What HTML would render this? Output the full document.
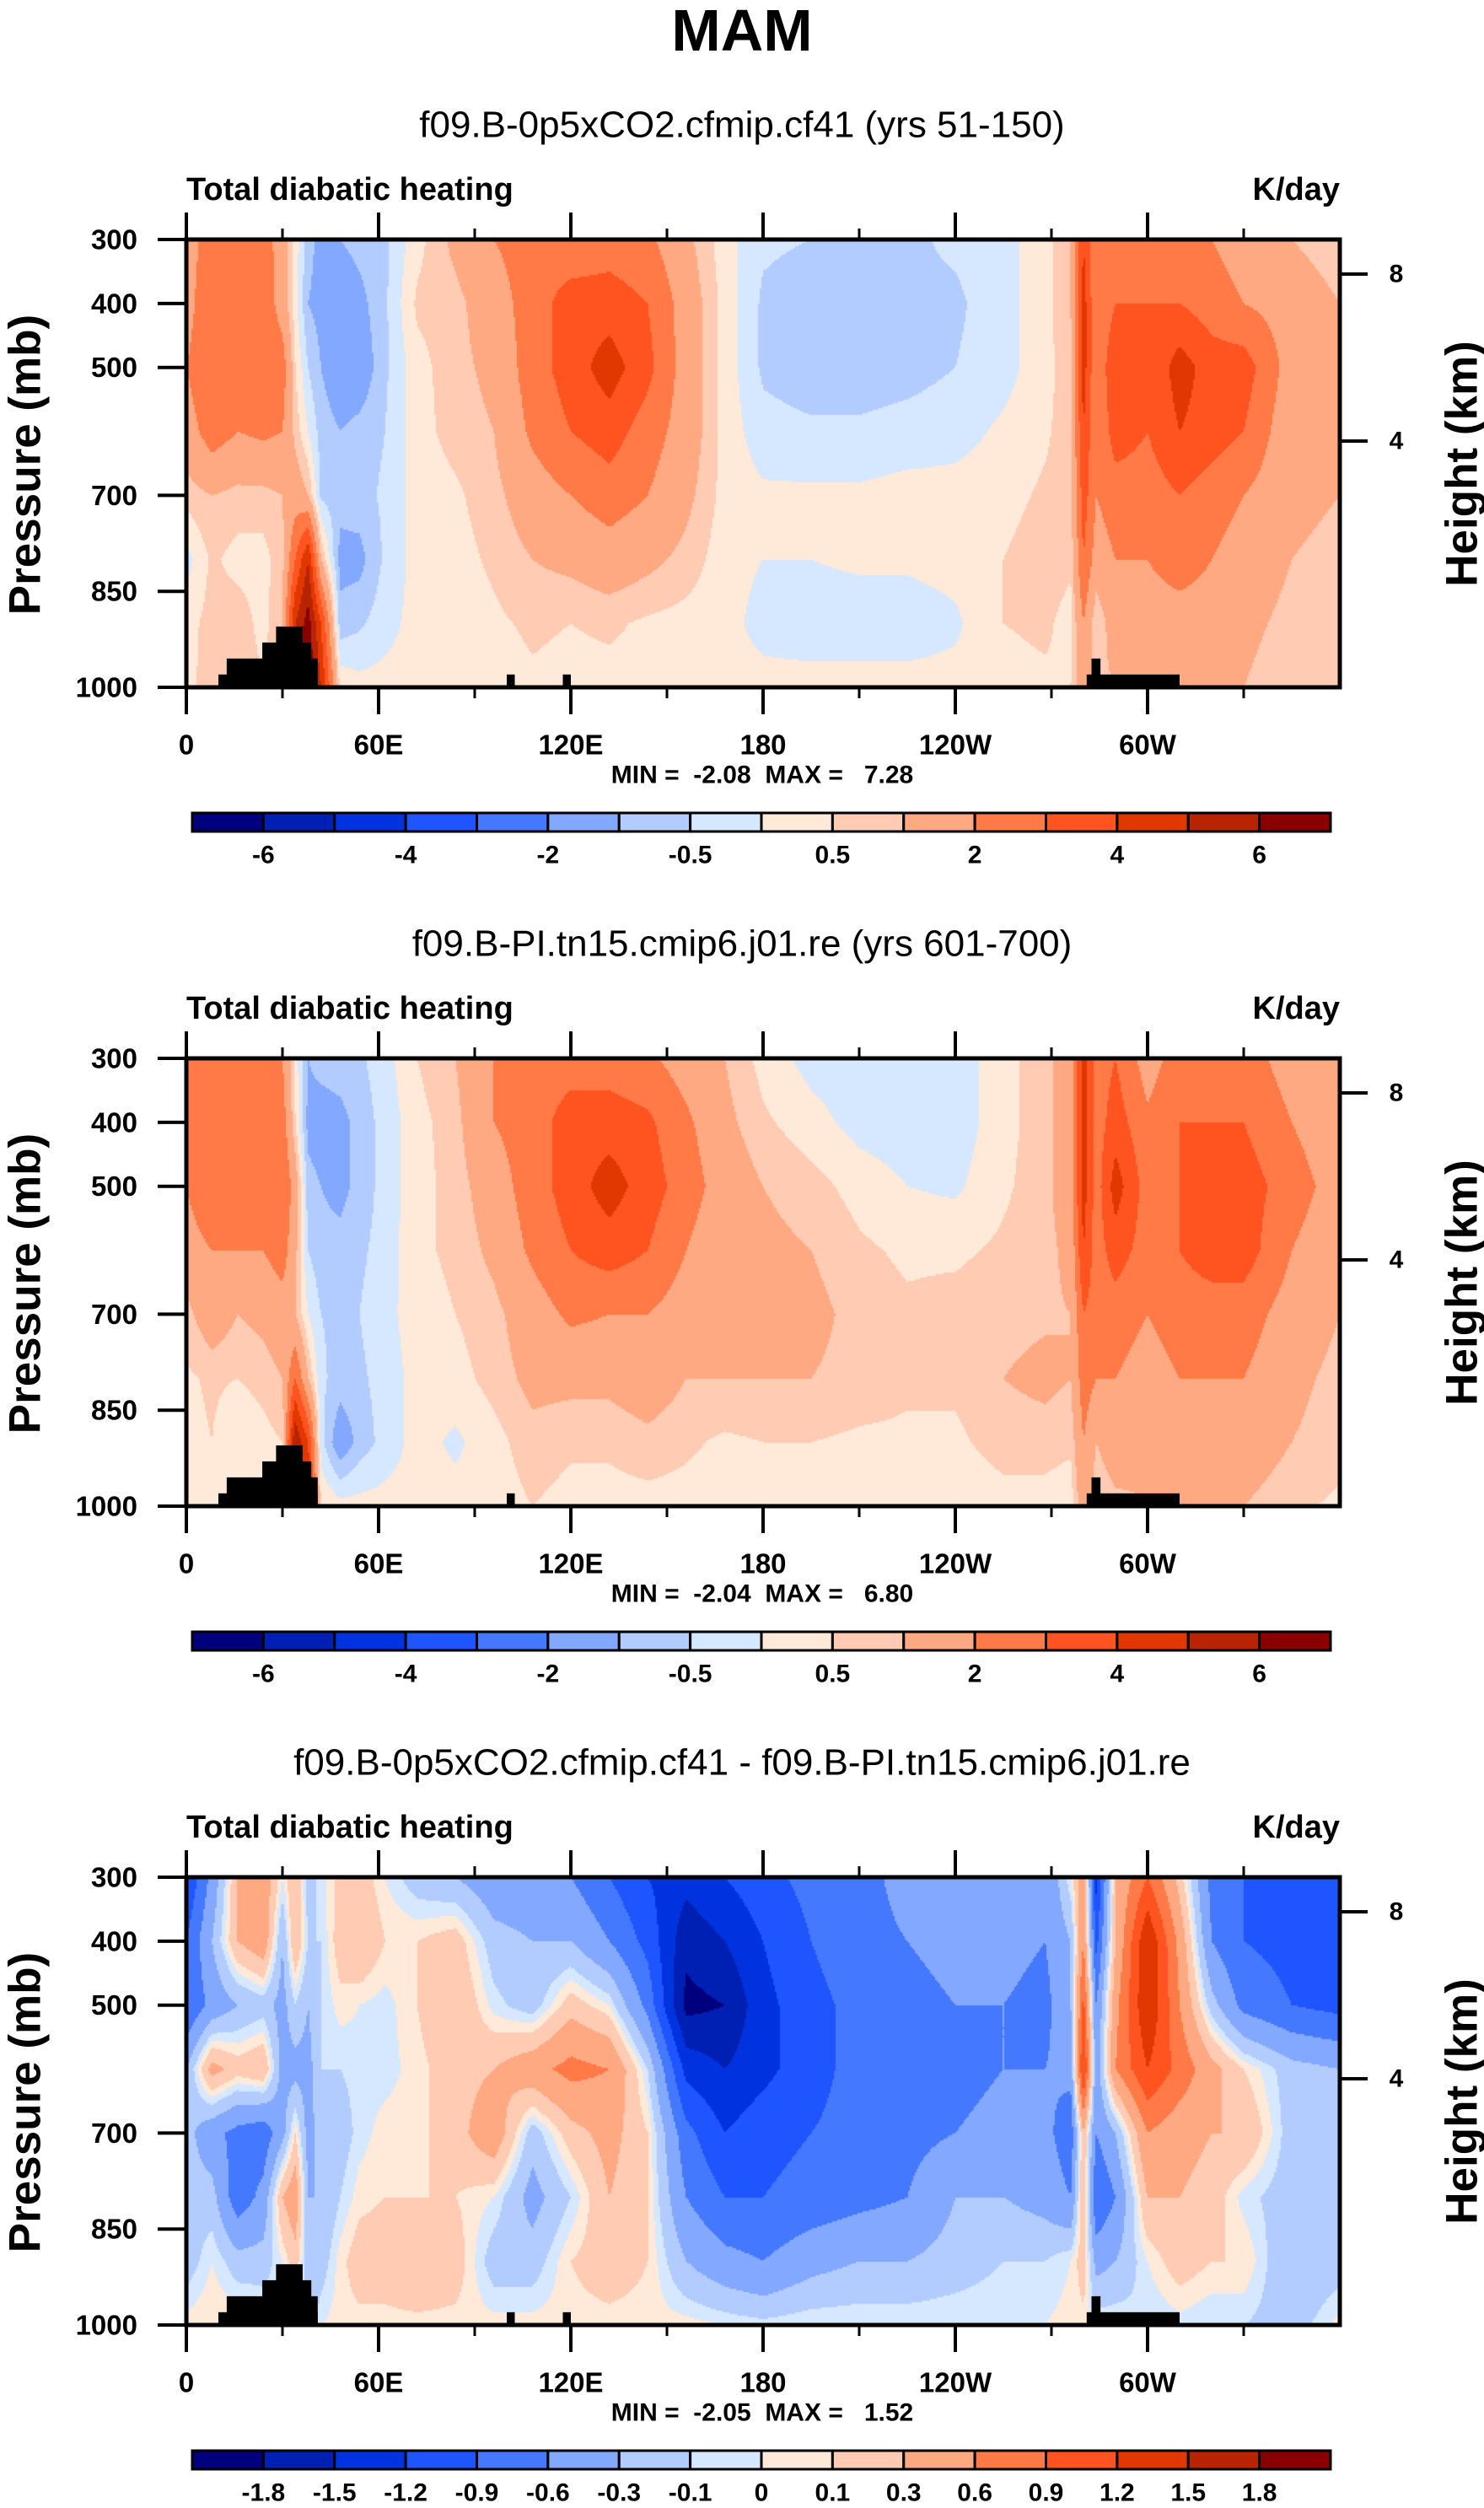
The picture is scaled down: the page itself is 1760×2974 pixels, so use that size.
<!DOCTYPE html>
<html><head><meta charset="utf-8">
<style>
html,body{margin:0;padding:0;background:#fff;}
#wrap{position:relative;width:1760px;height:2974px;overflow:hidden;font-family:"Liberation Sans",Arial,sans-serif;}
canvas{position:absolute;left:0;top:0;}
svg{position:absolute;left:0;top:0;}
svg text{white-space:pre;}
</style></head>
<body>
<div id="wrap">
<canvas id="cv" width="1760" height="2974"></canvas>
<svg id="sv" width="1760" height="2974" xmlns="http://www.w3.org/2000/svg"></svg>
</div>
<script>
// ---- data ----
const lons = [0,8,16,24,30,34,38,42,48,54,62,72,84,96,108,120,132,144,156,168,180,195,210,225,240,255,268,276,280,284,290,300,310,320,330,345,360];
const levels = [300,400,500,600,700,800,900,1000];
const field1 = [
[1.5,1.5,2,1.5,0.7,-0.2,0.3,0.3],[2.5,3,3,2.5,1,0.6,0.7,0.8],[2.5,2.5,2.5,2,0.8,0.3,0.8,1],[2.5,2.7,3,2.2,0.8,0.3,0.3,0.5],
[1.5,1.5,2.5,2,1,0.8,1,1],[0.3,0.2,0.5,0.8,1.5,3,5,6],[-0.8,-1,-0.5,0,1,5,6.5,7],[-1.2,-1.2,-1,-0.7,-0.6,1,4,5],
[-1,-1.5,-1.5,-1,-0.8,-1.2,-0.8,0.4],[-0.8,-1.2,-1.5,-0.8,-0.7,-1.2,-0.6,0.2],[-0.6,-0.6,-0.6,-0.5,-0.4,-0.4,-0.2,0.2],
[0.3,0.6,0.3,0.3,0.2,0.2,0.2,0.2],[1.2,0.8,0.8,0.7,0.4,0.3,0.2,0.2],[2,1.5,1.2,1,0.8,0.6,0.4,0.2],[2.5,2.5,2.5,2.2,1.5,1,0.6,0.4],
[2.2,3.5,3.5,3,2,1.2,0.5,0.3],[2.5,3.5,4.5,3.5,2.5,1.5,0.6,0.3],[2.2,3,3.3,2.5,2,1.2,0.4,0.3],[1.2,1.5,1.5,1.5,1.2,0.8,0.3,0.2],
[0.2,0.3,0.3,0.3,0.3,0.2,0.2,0.2],[-0.4,-0.6,-0.6,-0.3,0.1,0,-0.2,0.2],[-0.5,-0.8,-0.8,-0.4,0.1,0,-0.3,0.2],[-0.6,-0.7,-0.8,-0.4,0.1,0.1,-0.3,0.2],
[-0.6,-0.6,-0.7,-0.3,0.2,0.1,-0.3,0.2],[-0.4,-0.6,-0.5,-0.2,0.2,0.2,-0.1,0.2],[-0.2,-0.2,-0.2,0.1,0.3,0.5,0.5,0.3],[0.3,0.3,0.3,0.4,0.6,0.8,0.6,0.4],
[1,1,0.8,0.8,0.7,0.6,0.3,0.5],[4,4.5,4.5,4,3.5,3,2,1.5],[2,2,2,2,2,1.5,0.5,0.8],[3,3,4,3.5,2.5,2,1.5,1],[2.5,3,3,3,2.5,2,1.5,1],
[3,3,4.5,4,3,2.5,1.5,1],[2,2.5,3.5,3.5,2.5,2,1.5,1],[1.5,2,3.5,3,2,1.5,1.2,1],[1,1.5,1.5,1.2,1.2,1,0.8,0.6],[0.6,1,1,1,1,0.8,0.6,0.5]];
const field2 = [
[2,2,2,1.5,0.8,0.4,0.3,0.3],[3,3,3,2,1.5,0.6,0.5,0.3],[2,2.5,2.5,2,1,0.5,0,0.3],[2.3,2.5,3,2,1.2,0.7,0.3,0.3],
[2,2.5,3,2.5,1.5,1,0.5,0.3],[0.3,0.5,1.5,1.2,1,3,6,7],[-1,-1.2,-0.8,-0.5,0,1,4,5],[-0.8,-1.3,-1,-0.8,-0.5,-0.4,-0.3,0.5],
[-0.7,-1.2,-1.2,-0.8,-0.6,-0.7,-1.5,0.2],[-0.6,-0.8,-0.8,-0.6,-0.5,-0.6,-0.8,0.2],[-0.2,-0.3,-0.3,-0.3,-0.2,-0.3,-0.3,0.2],
[0.5,0.3,0.3,0.4,0.3,0.2,0.2,0.2],[1,0.8,0.7,0.6,0.5,0.3,-0.1,0.2],[2,2,1.5,1.2,0.8,0.7,0.3,0.2],[2.5,2.5,2.5,2.2,1.5,1.2,0.8,0.5],
[2.5,3.5,3.5,3,2.2,1.2,0.6,0.3],[2.5,3.5,4.5,3.5,2,1.2,0.6,0.3],[2.2,3.2,3.5,3,2,1.5,0.8,0.3],[1.5,2.2,2.5,2,1.5,1,0.6,0.3],
[1,1.2,1.5,1.2,1.2,1,0.4,0.2],[0.3,0.6,1,1.2,1.2,1,0.5,0.2],[-0.2,0.2,0.7,1,1.2,1,0.5,0.2],[-0.3,-0.2,0.3,0.6,0.8,0.8,0.4,0.2],
[-0.3,-0.3,0,0.4,0.6,0.6,0.4,0.2],[-0.3,-0.3,-0.1,0.4,0.7,0.6,0.4,0.2],[0.3,0.3,0.4,0.6,0.8,1,0.7,0.3],[0.8,0.8,0.8,0.8,0.9,1.2,0.7,0.3],
[1.5,1.5,1.5,1.2,1,1,0.6,0.2],[4.5,4.5,4.5,4,3,2.5,2,1.5],[2.5,2.5,2.5,2.5,2.5,2,1,0.5],[3,3.5,4.5,3.5,2.5,2,1.5,0.8],
[1.5,2.2,2.5,2.5,2,1.5,1.2,1],[2.5,3,3,3,2.5,2,1.5,1],[2.5,3,3.5,3.5,2.5,2,1.5,1.2],[2.5,3,3.5,3.5,2.5,2,1.5,1],
[1.5,2,2.5,2,1.5,1.2,1,0.6],[1.2,1.2,1.5,1.2,1,0.8,0.7,0.4]];
const field3 = [
[-1.2,-0.9,-0.9,-0.3,-0.2,-0.2,-0.2,0.05],[-0.5,-0.3,-0.5,0.4,-0.5,-0.2,0,0.1],[0.3,0.3,-0.3,0.2,-0.7,-0.8,-0.2,0.1],[0.5,0.5,-0.2,0.3,-0.8,-0.5,-0.2,0.05],
[0,-0.3,-0.4,-0.4,-0.4,0.3,0,0],[0.3,0.3,-0.1,-0.4,0.1,0.5,0.2,0],[-0.2,-0.1,-0.3,-0.4,-0.4,-0.3,-0.2,-0.3],[-0.05,-0.1,-0.1,-0.1,-0.2,-0.3,-0.2,0],
[0.15,0.2,0.05,-0.1,-0.2,-0.1,0.05,0.05],[0.2,0.3,0,-0.05,-0.05,0.05,0.2,0.05],[0,0.1,-0.05,-0.05,0.05,0.1,0.2,0.05],[-0.2,0.1,0.1,0.05,0.05,0.1,0.3,0.05],
[-0.3,0.2,0.3,0.2,0.2,0.1,0.2,0.05],[-0.5,-0.2,-0.05,0.3,0.5,0,-0.2,0.05],[-0.5,-0.3,-0.2,0.5,-0.2,-0.4,-0.2,0.05],[-0.6,-0.3,0.2,0.7,0.2,-0.1,0.1,0.05],
[-0.9,-0.6,0,0.6,0.4,0.3,0.2,0.05],[-1.2,-1,-0.7,-0.1,0.1,0.1,0.1,0.05],[-1.4,-1.7,-1.9,-1.3,-0.8,-0.6,-0.3,0.05],[-1.2,-1.5,-1.8,-1.5,-1.2,-0.9,-0.5,0],
[-1,-1.2,-1.3,-1.3,-1,-0.9,-0.6,-0.05],[-0.8,-0.9,-1,-1,-0.9,-0.8,-0.4,0],[-0.7,-0.7,-0.8,-0.8,-0.8,-0.7,-0.3,0],[-0.5,-0.6,-0.7,-0.8,-0.7,-0.6,-0.3,0],
[-0.5,-0.5,-0.6,-0.7,-0.6,-0.3,-0.2,0],[-0.4,-0.5,-0.6,-0.6,-0.5,-0.3,-0.1,0],[-0.6,-0.6,-0.7,-0.6,-0.5,-0.4,-0.1,0],[0,-0.3,-0.3,-0.5,-0.8,-0.6,0,0.05],
[0.5,0.6,1,1.3,0.3,0.3,0.2,0.05],[-1.3,-1,-0.6,-0.5,-0.6,-0.9,-0.4,0],[0.3,0.3,0.5,0.6,-0.3,-0.6,-0.3,0],[0.9,1.5,1.5,1.2,0.6,0.3,0,-0.1],
[0.2,0.5,0.6,0.8,0.4,0.3,0.2,-0.05],[-0.7,-0.6,-0.2,0.4,0.3,0.2,0.1,-0.1],[-0.9,-0.9,-0.7,0.1,0.3,-0.05,0.1,-0.1],[-1,-1,-0.9,-0.2,-0.2,-0.2,-0.3,-0.2],
[-1.2,-1,-1,-0.3,-0.2,-0.2,-0.2,0.05]];
const levelsAbs = [-6,-5,-4,-3,-2,-1,-0.5,0,0.5,1,2,3,4,5,6];
const levelsDiff = [-1.8,-1.5,-1.2,-0.9,-0.6,-0.3,-0.1,0,0.1,0.3,0.6,0.9,1.2,1.5,1.8];
const labelsAbs = ['-6','','-4','','-2','','-0.5','','0.5','','2','','4','','6'];
const labelsDiff = ['-1.8','-1.5','-1.2','-0.9','-0.6','-0.3','-0.1','0','0.1','0.3','0.6','0.9','1.2','1.5','1.8'];
const palette = ['#00007f','#0020b4','#0033e0','#1e55ff','#4478ff','#83a8ff','#b2ccff','#d6e8ff','#ffe9d8','#ffcbb2','#ffa982','#ff7a46','#ff5320','#e03800','#b82300','#8a0000'];
const terrainA = [[10,41,980],[12.6,41,955],[23.7,39,930],[28,36.3,905],[100,102.5,980],[117.5,120,980],[282.5,285.3,955],[281,310,980]];
const terrainB = [[10,41,980],[12.6,41,955],[23.7,39,930],[28,36.3,905],[100,102.5,980],[282.5,285.3,955],[281,310,980]];
const pTicks = [300,400,500,700,850,1000];
const hTicks = [8,4];
const hTickP = [354,615];
const xMajor = [0,60,120,180,240,300];
const xLabels = ['0','60E','120E','180','120W','60W'];
const xMinor = [30,90,150,210,270,330];
const titles = ['f09.B-0p5xCO2.cfmip.cf41 (yrs 51-150)','f09.B-PI.tn15.cmip6.j01.re (yrs 601-700)','f09.B-0p5xCO2.cfmip.cf41 - f09.B-PI.tn15.cmip6.j01.re'];
const minmax = ['MIN =  -2.08  MAX =   7.28','MIN =  -2.04  MAX =   6.80','MIN =  -2.05  MAX =   1.52'];

// ---- layout ----
const X0=221, X1=1589, PH=531, OFF=971, TOP0=284;
const xs = lon => X0 + lon/360*(X1-X0);
const ys = (p,top) => top + (p-300)/700*PH;
const ctx = document.getElementById('cv').getContext('2d');
const svg = document.getElementById('sv');
const NS='http://www.w3.org/2000/svg';
function mk(tag, attrs, parent){const e=document.createElementNS(NS,tag);for(const k in attrs)e.setAttribute(k,attrs[k]);(parent||svg).appendChild(e);return e;}
function txt(s,x,y,size,anchor,weight,parent){const t=mk('text',{x:x,y:y,'font-size':size,'text-anchor':anchor||'middle','font-weight':weight||'bold','font-family':'Liberation Sans, Arial, sans-serif','dominant-baseline':'central'},parent);t.textContent=s;return t;}

function val(field, lon, p){
  let i=0; while(i<lons.length-2 && lon>lons[i+1]) i++;
  const tx=(lon-lons[i])/(lons[i+1]-lons[i]);
  let j=Math.min(Math.floor((p-300)/100),6); const ty=(p-levels[j])/100;
  const a=field[i][j],b=field[i+1][j],c=field[i][j+1],d=field[i+1][j+1];
  return (a*(1-tx)+b*tx)*(1-ty)+(c*(1-tx)+d*tx)*ty;
}
function colorFor(v,lv){let k=0;while(k<lv.length&&v>=lv[k])k++;return palette[k];}

const fields=[field1,field2,field3];
const lvls=[levelsAbs,levelsAbs,levelsDiff];
const labs=[labelsAbs,labelsAbs,labelsDiff];
const terrains=[terrainA,terrainB,terrainA];

const mt=txt('MAM',880,36,70,'middle','bold');



for(let k=0;k<3;k++){
  const top=TOP0+k*OFF, F=fields[k], LV=lvls[k];
  const step=2;
  for(let x=X0;x<X1;x+=step){
    const lon=(x+step/2-X0)/(X1-X0)*360;
    for(let y=top;y<top+PH;y+=step){
      const p=300+(y+step/2-top)/PH*700;
      ctx.fillStyle=colorFor(val(F,lon,p),LV);
      ctx.fillRect(x,y,step,step);
    }
  }
  const g=mk('g',{});
  
  
  terrains[k].forEach(t=>{
    const r=mk('rect',{x:xs(t[0]),y:ys(t[2],top),width:xs(t[1])-xs(t[0]),height:ys(1000,top)-ys(t[2],top),fill:'#000'},g);
    
    
  });
  const fr=mk('rect',{x:X0,y:top,width:X1-X0,height:PH,fill:'none',stroke:'#000','stroke-width':5},g);
  
  
  xMajor.forEach((l,i)=>{
    mk('line',{x1:xs(l),x2:xs(l),y1:top-32,y2:top,stroke:'#000','stroke-width':4},g);
    mk('line',{x1:xs(l),x2:xs(l),y1:top+PH,y2:top+PH+32,stroke:'#000','stroke-width':4},g);
    const t=txt(xLabels[i],xs(l),top+PH+68,33,'middle','bold',g);
    
    
  });
  xMinor.forEach(l=>{
    mk('line',{x1:xs(l),x2:xs(l),y1:top-13,y2:top,stroke:'#000','stroke-width':3},g);
    mk('line',{x1:xs(l),x2:xs(l),y1:top+PH,y2:top+PH+13,stroke:'#000','stroke-width':3},g);
  });
  pTicks.forEach(p=>{
    mk('line',{x1:X0-34,x2:X0,y1:ys(p,top),y2:ys(p,top),stroke:'#000','stroke-width':4},g);
    const t=txt(String(p),163,ys(p,top),33,'end','bold',g);
    
    
  });
  hTicks.forEach((h,i)=>{
    const y=ys(hTickP[i],top);
    mk('line',{x1:X1,x2:X1+33,y1:y,y2:y,stroke:'#000','stroke-width':4},g);
    const t=txt(String(h),1656,y,30,'middle','bold',g);
    
    
  });
  let t=txt(titles[k],880,top-136,44,'middle','normal',g);
  
  
  t=txt('Total diabatic heating',X0,top-59,38,'start','bold',g);
  
  
  t=txt('K/day',X1,top-59,38,'end','bold',g);
  
  
  t=txt('Pressure (mb)',0,0,53,'middle','bold',g);
  t.setAttribute('transform','translate(30,'+(top+267)+') rotate(-90)');
  
  
  t=txt('Height (km)',0,0,53,'middle','bold',g);
  t.setAttribute('transform','translate(1734,'+(top+266)+') rotate(-90)');
  
  
  t=txt(minmax[k],904,top+PH+104,30,'middle','bold',g);
  t.setAttribute('xml:space','preserve');
  
  
  const cb=mk('g',{},g);
  
  
  const cx0=228, cx1=1578, cy=top+680, ch=22, bw=(cx1-cx0)/palette.length;
  palette.forEach((c,i)=>{
    const r=mk('rect',{x:cx0+i*bw,y:cy,width:bw,height:ch,fill:c,stroke:'#000','stroke-width':3},cb);
    
    
  });
  labs[k].forEach((s,i)=>{
    if(!s) return;
    const tt=txt(s,cx0+(i+1)*bw,cy+50,30,'middle','bold',cb);
    
    
  });
}
</script>
</body></html>
